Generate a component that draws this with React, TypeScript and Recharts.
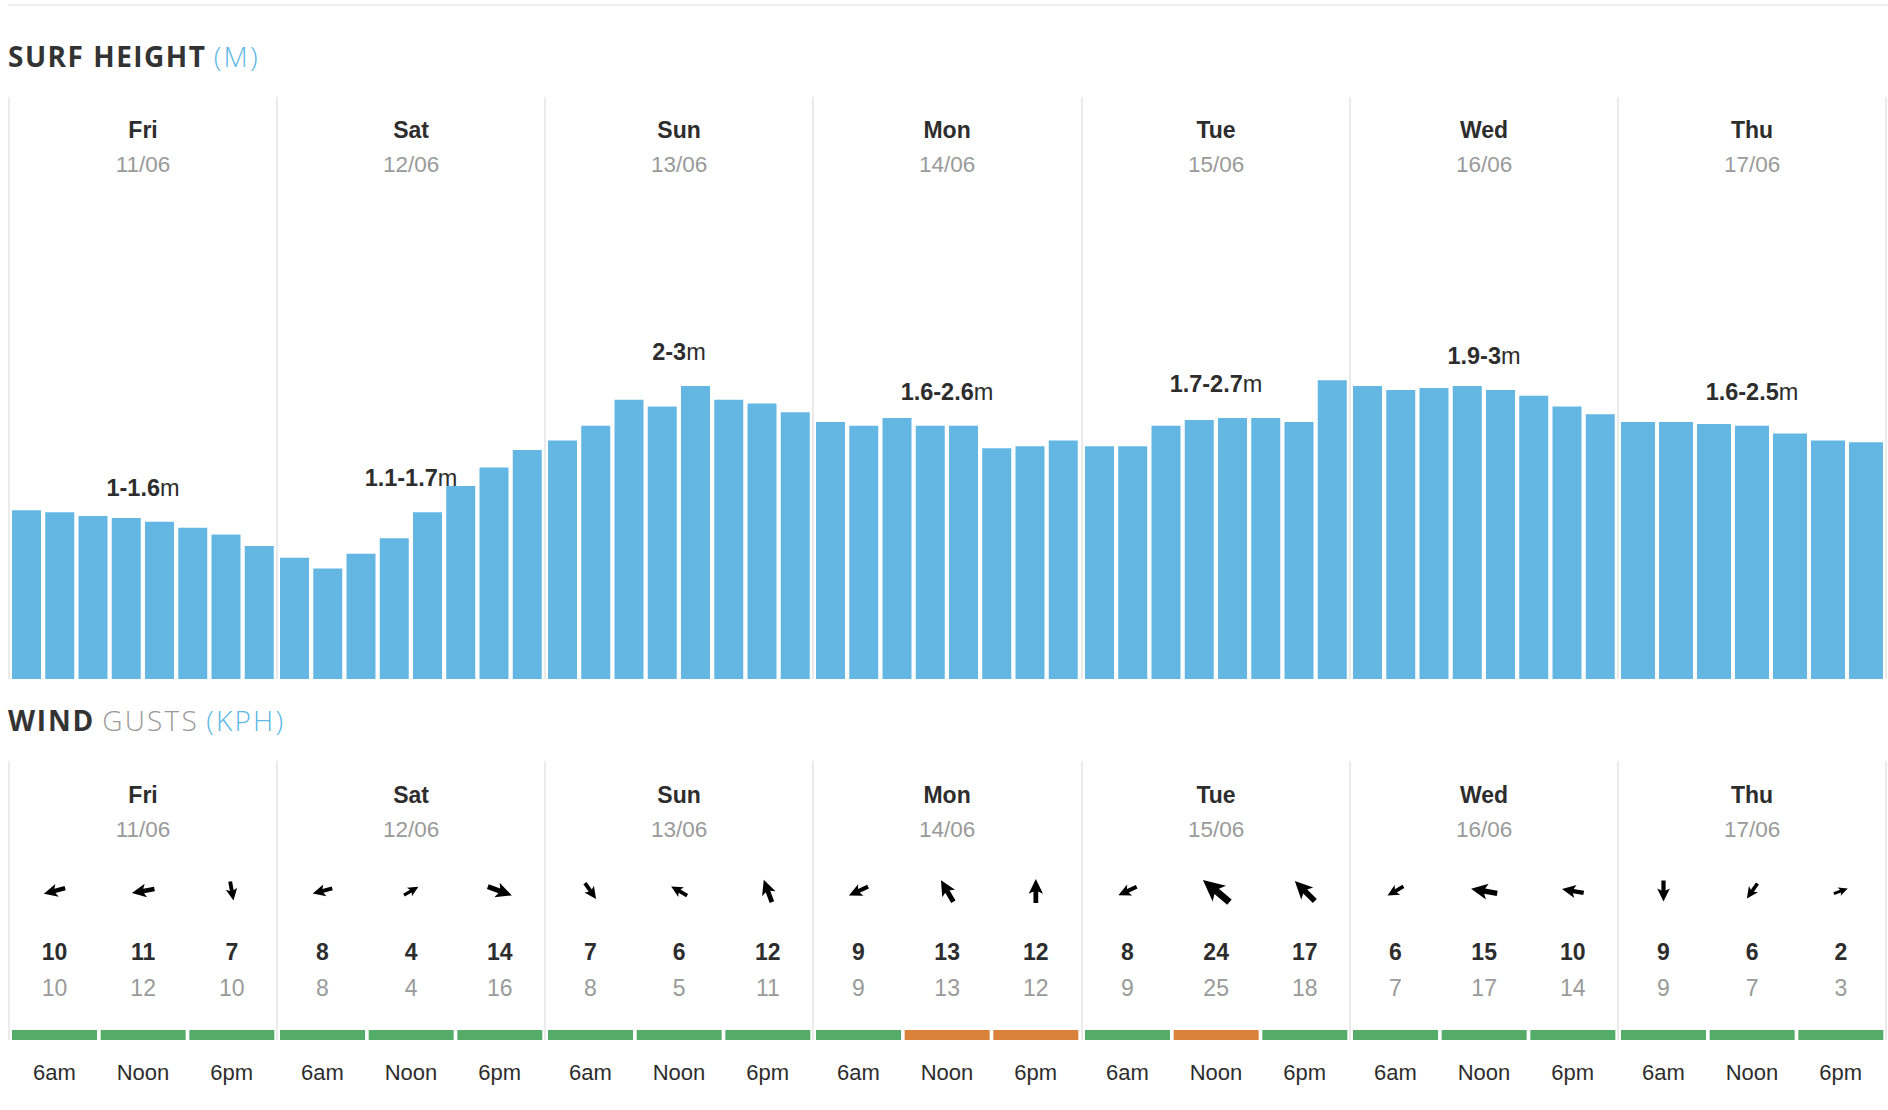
import React from "react";
import { BarChart, Bar, XAxis, YAxis, Cell, LabelList } from "recharts";

const days = ["Fri", "Sat", "Sun", "Mon", "Tue", "Wed", "Thu"];
const dates = ["11/06", "12/06", "13/06", "14/06", "15/06", "16/06", "17/06"];
const surfRanges = ["1-1.6", "1.1-1.7", "2-3", "1.6-2.6", "1.7-2.7", "1.9-3", "1.6-2.5"];

// max surf height (m) per 3-hour slot
const surfFri = [1.74, 1.72, 1.68, 1.66, 1.62, 1.56, 1.49, 1.37];
const surfSat = [1.25, 1.14, 1.29, 1.45, 1.72, 1.99, 2.18, 2.36];
const surfSun = [2.46, 2.61, 2.88, 2.81, 3.02, 2.88, 2.84, 2.75];
const surfMon = [2.65, 2.61, 2.69, 2.61, 2.61, 2.38, 2.4, 2.46];
const surfTue = [2.4, 2.4, 2.61, 2.67, 2.69, 2.69, 2.65, 3.08];
const surfWed = [3.02, 2.98, 3.0, 3.02, 2.98, 2.92, 2.81, 2.73];
const surfThu = [2.65, 2.65, 2.63, 2.61, 2.53, 2.46, 2.44];
const surfByDay = [surfFri, surfSat, surfSun, surfMon, surfTue, surfWed, surfThu];

const windTimes = ["6am", "Noon", "6pm"];
const windSpeed = [[10, 11, 7], [8, 4, 14], [7, 6, 12], [9, 13, 12], [8, 24, 17], [6, 15, 10], [9, 6, 2]];
const windGust = [[10, 12, 10], [8, 4, 16], [8, 5, 11], [9, 13, 12], [9, 25, 18], [7, 17, 14], [9, 7, 3]];
// direction the arrow points, degrees clockwise from up
const windDir = [[255, 260, 170], [255, 60, 110], [145, 300, 340], [245, 330, 0], [245, 310, 315], [240, 280, 280], [180, 215, 70]];
const windRating = [
  ["good", "good", "good"],
  ["good", "good", "good"],
  ["good", "good", "good"],
  ["good", "fair", "fair"],
  ["good", "fair", "good"],
  ["good", "good", "good"],
  ["good", "good", "good"],
];

const X0 = 9;
const COL_W = 268.14;
const CHART_W = 266;
const SURF_TOP = 97;
const SURF_H = 582;
const WIND_TOP = 761;
const WIND_H = 334;
const STRIP_Y = 1030;

const FONT = "'Liberation Sans', Arial, Helvetica, sans-serif";
const HEAD_FONT = "'Open Sans', 'Noto Sans', sans-serif";
const DARK = "#2d2d2d";
const GREY = "#9a9a9a";
const BLUE = "#5cb8e6";
const BAR = "#63b7e2";
const RATING_COLORS: Record<string, string> = { good: "#55ab68", fair: "#db823a" };

const ARROW = "M0,-0.5 L0.3,0.12 L0.1,0.02 L0.1,0.5 L-0.1,0.5 L-0.1,0.02 L-0.3,0.12 Z";

const colLeft = (i: number) => Math.round(X0 + i * COL_W);

function DayHeader({ i, top }: { i: number; top: number }) {
  return (
    <div style={{ position: "absolute", left: colLeft(i), top, width: COL_W, textAlign: "center", fontFamily: FONT }}>
      <div style={{ position: "absolute", left: 0, right: 0, top: 20, lineHeight: "26px", fontSize: 23, fontWeight: 700, color: DARK }}>
        {days[i]}
      </div>
      <div style={{ position: "absolute", left: 0, right: 0, top: 55, lineHeight: "26px", fontSize: 22.5, color: GREY }}>
        {dates[i]}
      </div>
    </div>
  );
}

function SurfDay({ i }: { i: number }) {
  const data = surfByDay[i].map((h, j) => ({ slot: j, h }));
  const mid = Math.floor(data.length / 2);
  return (
    <div style={{ position: "absolute", left: colLeft(i) + 1, top: SURF_TOP }}>
      <BarChart width={CHART_W} height={SURF_H} data={data} margin={{ top: 0, right: 0, bottom: 0, left: 0 }} barCategoryGap={2}>
        <XAxis dataKey="slot" hide />
        <YAxis hide domain={[0, 6]} />
        <Bar dataKey="h" fill={BAR} isAnimationActive={false}>
          <LabelList
            dataKey="h"
            content={(p: any) =>
              p.index === mid ? (
                <text x={CHART_W / 2} y={p.y - 34} textAnchor="middle" dominantBaseline="central" fontFamily={FONT} fontSize={23.5} fill={DARK}>
                  <tspan fontWeight={700}>{surfRanges[i]}</tspan>
                  <tspan>m</tspan>
                </text>
              ) : null
            }
          />
        </Bar>
      </BarChart>
    </div>
  );
}

function WindDay({ i }: { i: number }) {
  const data = windTimes.map((t, j) => ({
    t,
    band: 1,
    speed: windSpeed[i][j],
    gust: windGust[i][j],
    dir: windDir[i][j],
    rating: windRating[i][j],
  }));
  const top = STRIP_Y - WIND_TOP;
  return (
    <div style={{ position: "absolute", left: colLeft(i) + 1, top: WIND_TOP }}>
      <BarChart width={CHART_W} height={WIND_H} data={data} margin={{ top, right: 0, bottom: 0, left: 0 }} barCategoryGap={2}>
        <XAxis
          dataKey="t"
          height={WIND_H - top - 10}
          axisLine={false}
          tickLine={false}
          tickSize={0}
          tickMargin={0}
          interval={0}
          tick={(p: any) => (
            <text x={p.x} y={p.y + 32} textAnchor="middle" dominantBaseline="central" fontFamily={FONT} fontSize={22} fill={DARK}>
              {p.payload.value}
            </text>
          )}
        />
        <YAxis hide domain={[0, 1]} />
        <Bar dataKey="band" isAnimationActive={false}>
          {data.map((d, j) => (
            <Cell key={j} fill={RATING_COLORS[d.rating]} />
          ))}
          <LabelList
            dataKey="band"
            content={(p: any) => {
              const d = data[p.index];
              const cx = p.x + p.width / 2;
              const len = 13 + 0.9 * d.speed;
              return (
                <g>
                  <path d={ARROW} fill="#000" transform={`translate(${cx},${p.y - 139}) rotate(${d.dir}) scale(${len})`} />
                  <text x={cx} y={p.y - 78} textAnchor="middle" dominantBaseline="central" fontFamily={FONT} fontSize={23} fontWeight={700} fill={DARK}>
                    {d.speed}
                  </text>
                  <text x={cx} y={p.y - 42} textAnchor="middle" dominantBaseline="central" fontFamily={FONT} fontSize={23} fill={GREY}>
                    {d.gust}
                  </text>
                </g>
              );
            }}
          />
        </Bar>
      </BarChart>
    </div>
  );
}

function Separators({ top, height }: { top: number; height: number }) {
  return (
    <>
      {Array.from({ length: days.length + 1 }, (_, i) => (
        <div key={i} style={{ position: "absolute", left: colLeft(i) - 1, top, width: 2, height, background: "#ebebeb" }} />
      ))}
    </>
  );
}

export default function App() {
  const idx = days.map((_, i) => i);
  return (
    <div style={{ position: "absolute", left: 0, top: 0, width: 1888, height: 1110, background: "#fff", overflow: "hidden" }}>
      <div style={{ position: "absolute", left: 8, top: 4, width: 1880, height: 2, background: "#ececec" }} />

      <div style={{ position: "absolute", left: 8, top: 36, lineHeight: "40px", fontSize: 28, fontFamily: HEAD_FONT, whiteSpace: "nowrap" }}>
        <span style={{ fontWeight: 700, color: "#333", letterSpacing: 1.5 }}>SURF HEIGHT</span>{" "}
        <span style={{ fontWeight: 300, color: BLUE, letterSpacing: 2.2 }}>(M)</span>
      </div>

      <Separators top={SURF_TOP} height={SURF_H} />
      {idx.map((i) => (
        <DayHeader key={"sh" + i} i={i} top={SURF_TOP} />
      ))}
      {idx.map((i) => (
        <SurfDay key={"s" + i} i={i} />
      ))}

      <div style={{ position: "absolute", left: 8, top: 700, lineHeight: "40px", fontSize: 28, fontFamily: HEAD_FONT, whiteSpace: "nowrap" }}>
        <span style={{ fontWeight: 700, color: "#333", letterSpacing: 1.8 }}>WIND</span>{" "}
        <span style={{ fontWeight: 300, color: GREY, letterSpacing: 2.2 }}>GUSTS</span>{" "}
        <span style={{ fontWeight: 300, color: BLUE, letterSpacing: 2.2 }}>(KPH)</span>
      </div>

      <Separators top={WIND_TOP} height={STRIP_Y + 10 - WIND_TOP} />
      {idx.map((i) => (
        <DayHeader key={"wh" + i} i={i} top={WIND_TOP + 1} />
      ))}
      {idx.map((i) => (
        <WindDay key={"w" + i} i={i} />
      ))}
    </div>
  );
}
